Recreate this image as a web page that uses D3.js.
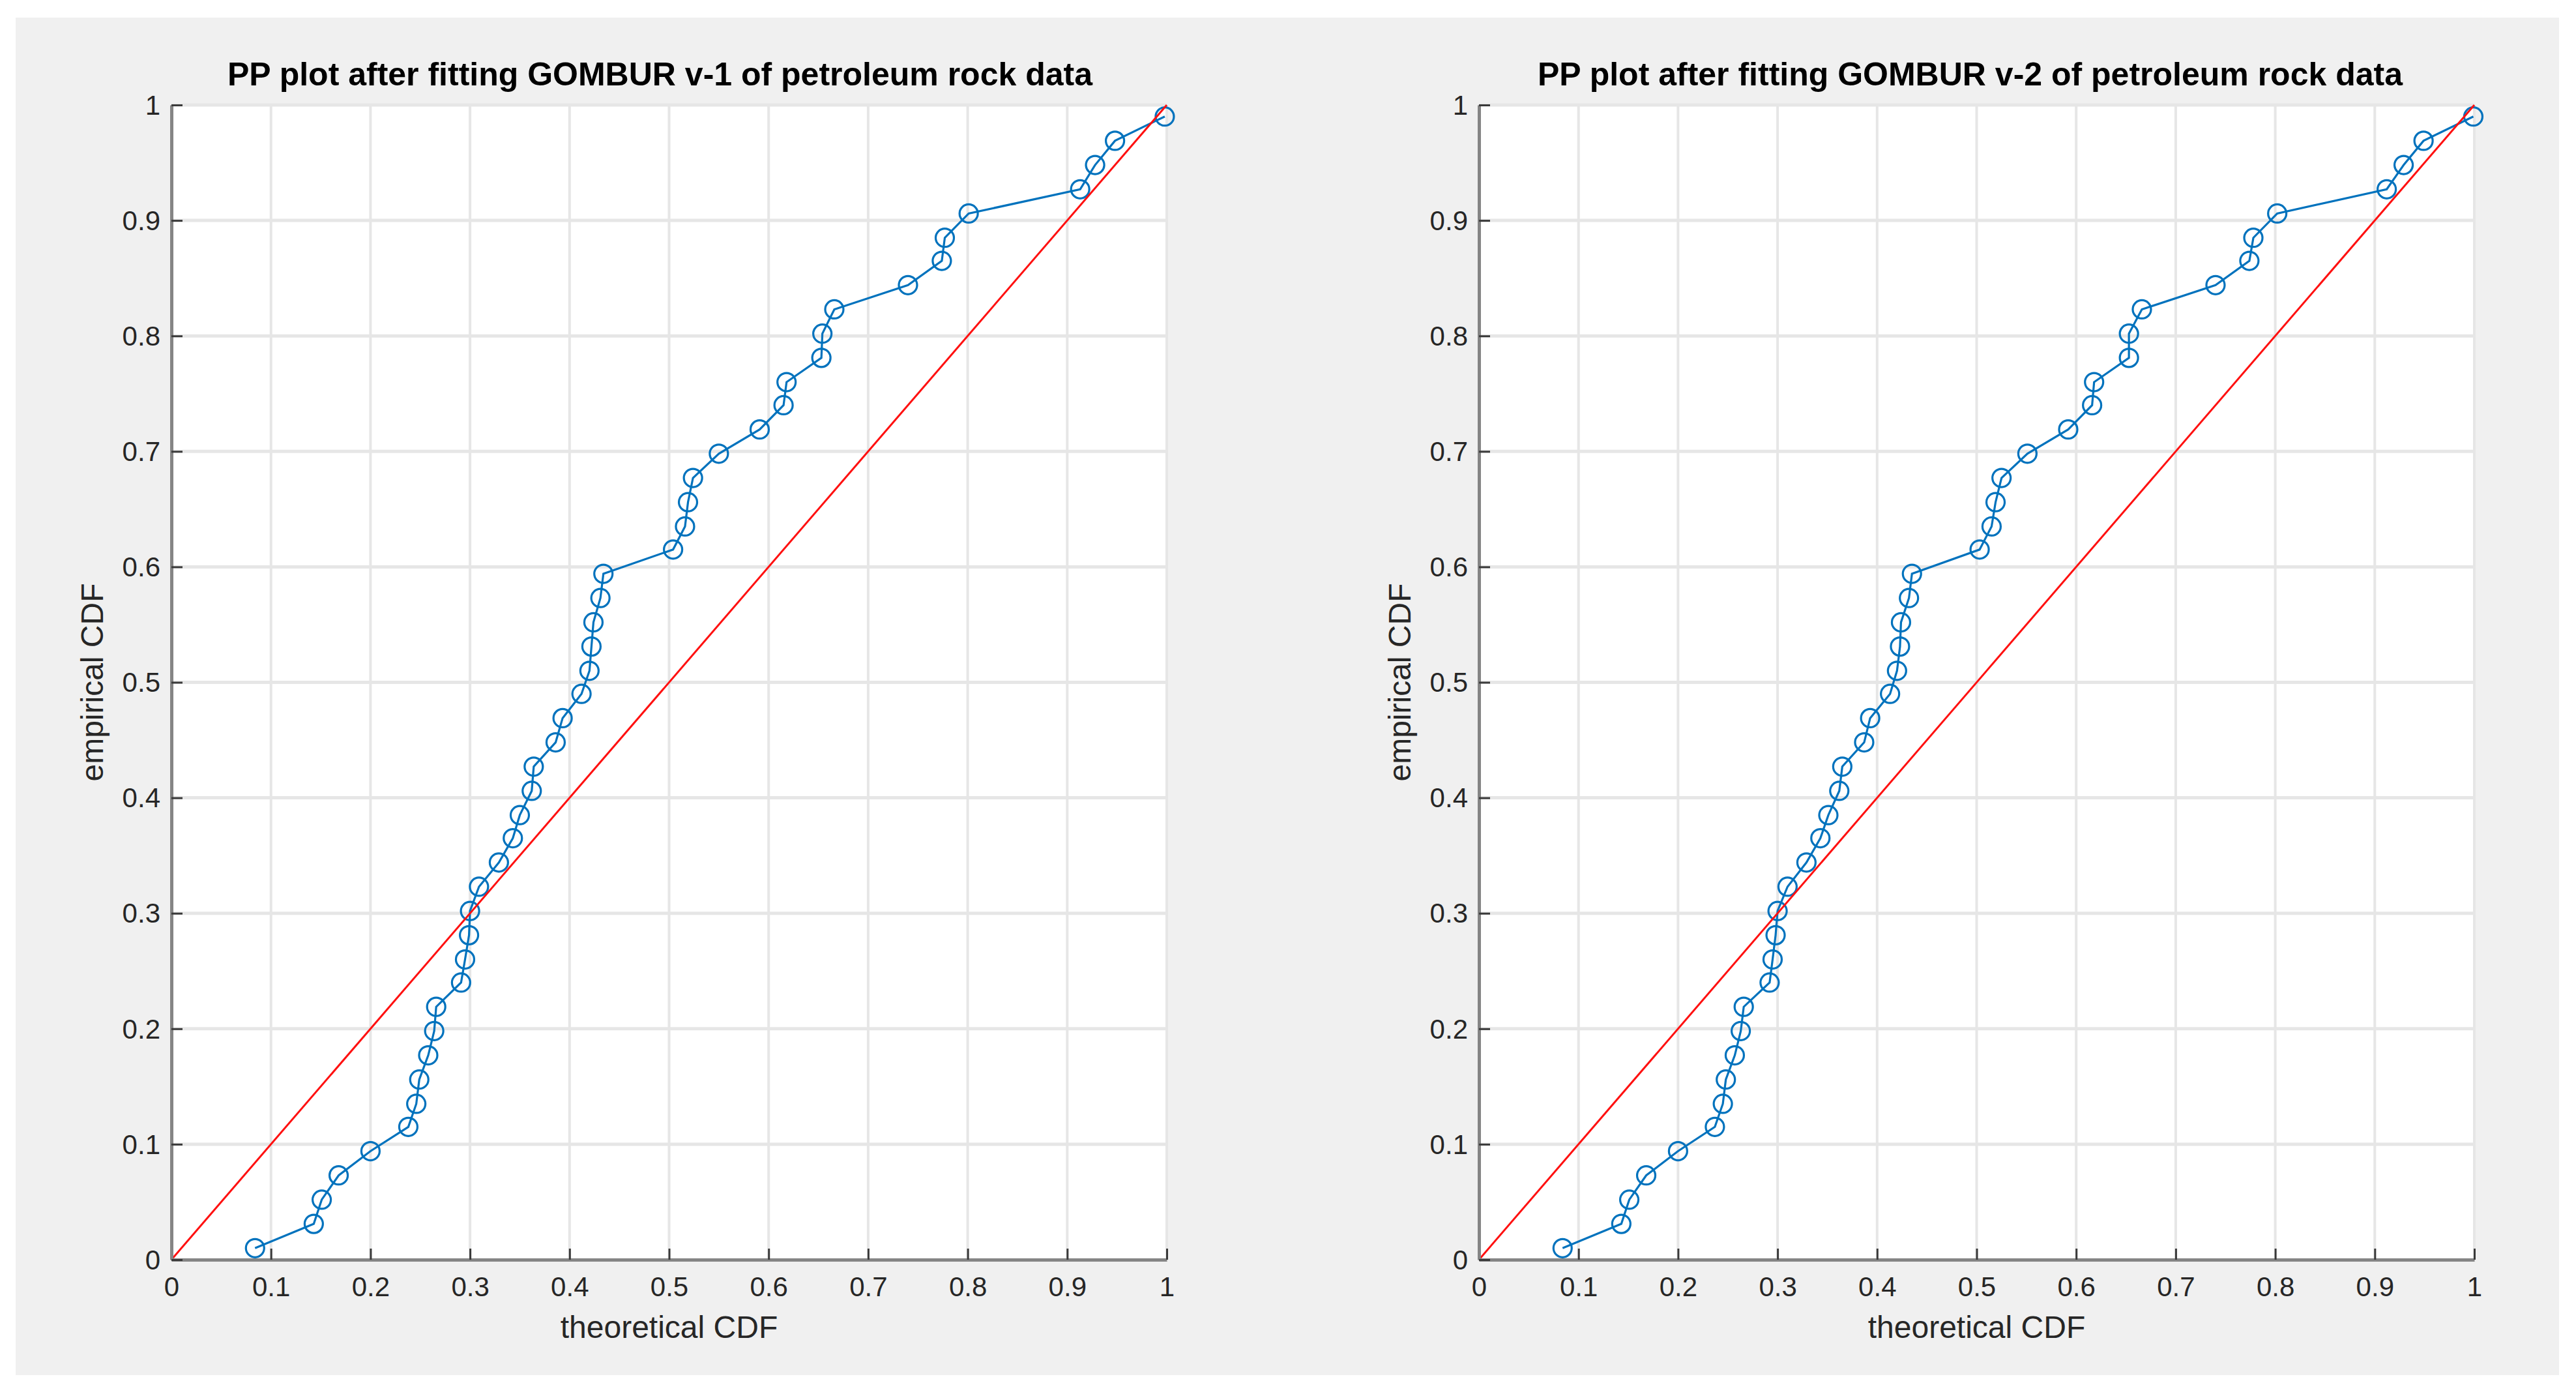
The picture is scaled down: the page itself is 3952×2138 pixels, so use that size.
<!DOCTYPE html>
<html>
<head>
<meta charset="utf-8">
<script src="https://cdn.jsdelivr.net/npm/d3@7"></script>
<style>
  html, body { margin: 0; padding: 0; background: #ffffff; }
  svg { display: block; }
  text { font-family: "Liberation Sans", Arial, Helvetica, sans-serif; }
</style>
</head>
<body>
<svg id="chart" width="3952" height="2138"></svg>
<script>
// ---- data ----
const titles = [
  "PP plot after fitting GOMBUR v-1 of petroleum rock data",
  "PP plot after fitting GOMBUR v-2 of petroleum rock data"
];
const xLabel = "theoretical CDF";
const yLabel = "empirical CDF";
const tickValues = [0, 0.1, 0.2, 0.3, 0.4, 0.5, 0.6, 0.7, 0.8, 0.9, 1];
const tickLabels = ["0", "0.1", "0.2", "0.3", "0.4", "0.5", "0.6", "0.7", "0.8", "0.9", "1"];

const empiricalCDF = [0.010, 0.031, 0.052, 0.073, 0.094, 0.115, 0.135, 0.156, 0.177, 0.198,
  0.219, 0.240, 0.260, 0.281, 0.302, 0.323, 0.344, 0.365, 0.385, 0.406,
  0.427, 0.448, 0.469, 0.490, 0.510, 0.531, 0.552, 0.573, 0.594, 0.615,
  0.635, 0.656, 0.677, 0.698, 0.719, 0.740, 0.760, 0.781, 0.802, 0.823,
  0.844, 0.865, 0.885, 0.906, 0.927, 0.948, 0.969, 0.990];

const theoreticalV1 = [0.084, 0.143, 0.151, 0.168, 0.200, 0.238, 0.246, 0.249, 0.258, 0.264,
  0.266, 0.291, 0.295, 0.299, 0.300, 0.309, 0.329, 0.343, 0.350, 0.362,
  0.364, 0.386, 0.393, 0.412, 0.420, 0.422, 0.424, 0.431, 0.434, 0.504,
  0.516, 0.519, 0.524, 0.550, 0.591, 0.615, 0.618, 0.653, 0.654, 0.666,
  0.740, 0.774, 0.777, 0.801, 0.913, 0.928, 0.948, 0.998];

const theoreticalV2 = [0.084, 0.143, 0.151, 0.168, 0.200, 0.237, 0.245, 0.248, 0.257, 0.263,
  0.266, 0.292, 0.295, 0.298, 0.300, 0.310, 0.329, 0.343, 0.351, 0.362,
  0.365, 0.387, 0.393, 0.413, 0.420, 0.423, 0.424, 0.432, 0.435, 0.503,
  0.515, 0.519, 0.525, 0.551, 0.592, 0.616, 0.618, 0.653, 0.653, 0.666,
  0.740, 0.774, 0.778, 0.802, 0.912, 0.929, 0.949, 0.999];

const refLine = [[0, 0], [1, 1]];

// ---- layout ----
const svg = d3.select("#chart");
svg.append("rect").attr("x", 24).attr("y", 27).attr("width", 3902).attr("height", 2082)
  .attr("fill", "#f0f0f0");

const panels = [
  { x0: 263, x1: 1790, series: theoreticalV1, title: titles[0], titleShift: -14 },
  { x0: 2269, x1: 3796, series: theoreticalV2, title: titles[1], titleShift: -10 }
];
const yTop = 161, yBot = 1932;

panels.forEach(p => {
  const x = d3.scaleLinear().domain([0, 1]).range([p.x0, p.x1]);
  const y = d3.scaleLinear().domain([0, 1]).range([yBot, yTop]);
  const g = svg.append("g");

  // plot background
  g.append("rect").attr("x", p.x0).attr("y", yTop).attr("width", p.x1 - p.x0).attr("height", yBot - yTop)
    .attr("fill", "#ffffff");

  // grid
  g.append("g").selectAll("line.v").data(tickValues).join("line")
    .attr("x1", d => x(d)).attr("x2", d => x(d)).attr("y1", yTop).attr("y2", yBot)
    .attr("stroke", "#e6e6e6").attr("stroke-width", 4);
  g.append("g").selectAll("line.h").data(tickValues).join("line")
    .attr("x1", p.x0).attr("x2", p.x1).attr("y1", d => y(d)).attr("y2", d => y(d))
    .attr("stroke", "#e6e6e6").attr("stroke-width", 5);

  // data line + markers
  const pts = p.series.map((v, i) => [v, empiricalCDF[i]]);
  const line = d3.line().x(d => x(d[0])).y(d => y(d[1]));
  g.append("path").datum(pts).attr("d", line)
    .attr("fill", "none").attr("stroke", "#0072BD").attr("stroke-width", 3.2);
  g.append("g").selectAll("circle").data(pts).join("circle")
    .attr("cx", d => x(d[0])).attr("cy", d => y(d[1])).attr("r", 14)
    .attr("fill", "none").attr("stroke", "#0072BD").attr("stroke-width", 3.2);

  // reference line
  g.append("path").datum(refLine).attr("d", line)
    .attr("fill", "none").attr("stroke", "#ff1010").attr("stroke-width", 3);

  // axes
  const fmt = d => tickLabels[tickValues.indexOf(d)];
  const ax = g.append("g").attr("transform", `translate(0,${yBot})`)
    .call(d3.axisBottom(x).tickValues(tickValues).tickFormat(fmt).tickSizeInner(-17).tickSizeOuter(0).tickPadding(26));
  const ay = g.append("g").attr("transform", `translate(${p.x0},0)`)
    .call(d3.axisLeft(y).tickValues(tickValues).tickFormat(fmt).tickSizeInner(-17).tickSizeOuter(0).tickPadding(17));
  [ax, ay].forEach(a => {
    a.select(".domain").attr("stroke", "#858585").attr("stroke-width", 5);
    a.selectAll(".tick line").attr("stroke", "#3a3a3a").attr("stroke-width", 3);
    a.selectAll(".tick text").attr("fill", "#262626").attr("font-size", 42)
      .attr("font-family", "'Liberation Sans', Arial, sans-serif");
  });
  ay.selectAll(".tick text").attr("dy", "0.34em");

  // labels
  g.append("text").attr("x", (p.x0 + p.x1) / 2).attr("y", 2052).attr("text-anchor", "middle")
    .attr("font-size", 48).attr("fill", "#262626").text(xLabel);
  g.append("text").attr("transform", `translate(${p.x0 - 105},${(yTop + yBot) / 2}) rotate(-90)`)
    .attr("text-anchor", "middle").attr("font-size", 48).attr("fill", "#262626").text(yLabel);
  g.append("text").attr("x", (p.x0 + p.x1) / 2 + p.titleShift).attr("y", 131).attr("text-anchor", "middle")
    .attr("font-size", 50).attr("font-weight", "bold").attr("fill", "#000000").text(p.title);
});
</script>
</body>
</html>
